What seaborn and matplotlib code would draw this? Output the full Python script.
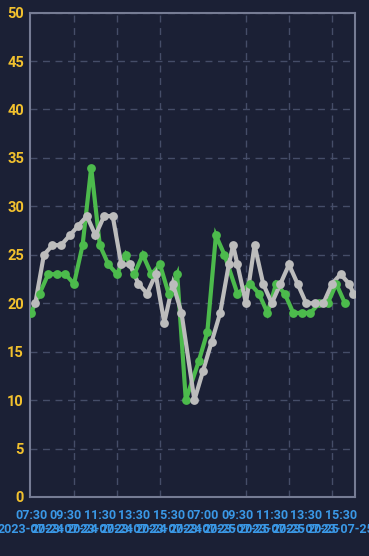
import matplotlib
matplotlib.use("Agg")
import matplotlib.pyplot as plt
import seaborn as sns
import pandas as pd

# ---- data (category index on the x axis, value on y) ----
green_idx = [0, 2, 4, 6, 8, 10, 12, 14, 16, 18, 20, 22, 24, 26, 28, 30, 32, 34,
             36, 39, 41, 43, 45, 48, 51, 53, 55, 57, 59, 61, 63, 65, 67, 69, 71, 73]
green_val = [19, 21, 23, 23, 23, 22, 26, 34, 26, 24, 23, 25, 23, 25, 23, 24, 21, 23,
             10, 14, 17, 27, 25, 21, 22, 21, 19, 22, 21, 19, 19, 19, 20, 20, 22, 20]

gray_idx = [1, 3, 5, 7, 9, 11, 13, 15, 17, 19, 21, 23, 25, 27, 29, 31, 33, 35,
            38, 40, 42, 44, 46, 47, 48, 50, 52, 54, 56, 58, 60, 62, 64, 66, 68, 70,
            72, 74, 75]
gray_val = [20, 25, 26, 26, 27, 28, 29, 27, 29, 29, 24, 24, 22, 21, 23, 18, 22, 19,
            10, 13, 16, 19, 24, 26, 24, 20, 26, 22, 20, 22, 24, 22, 20, 20, 20, 22,
            23, 22, 21]

tick_idx = [0, 8, 16, 24, 32, 40, 48, 56, 64, 72]
tick_time = ["07:30", "09:30", "11:30", "13:30", "15:30",
             "07:00", "09:30", "11:30", "13:30", "15:30"]
tick_date = ["2023-07-24"] * 5 + ["2023-07-25"] * 5
y_ticks = [0, 5, 10, 15, 20, 25, 30, 35, 40, 45, 50]

# ---- style ----
BG = "#1b2035"
GREEN = "#4cba4c"
GRAY = "#bcbcbc"
GRID = "#454d68"
FRAME = "#767c94"
YCOL = "#f2c12e"
XCOL = "#3a98e6"

sns.set_theme(style="dark", rc={"axes.facecolor": BG, "figure.facecolor": BG})
plt.rcParams["font.family"] = ["Roboto", "DejaVu Sans"]

fig = plt.figure(figsize=(3.69, 5.56), dpi=100)
W, H = 369, 556
ax = fig.add_axes([30 / W, (H - 497) / H, 325 / W, (497 - 12.6) / H])
ax.set_facecolor(BG)

dg = pd.DataFrame({"x": green_idx, "y": green_val})
dy = pd.DataFrame({"x": gray_idx, "y": gray_val})

line_kw = dict(linewidth=3.0, solid_joinstyle="miter", solid_capstyle="butt")
sns.lineplot(data=dg, x="x", y="y", color=GREEN, ax=ax, zorder=3, **line_kw)
sns.lineplot(data=dy, x="x", y="y", color=GRAY, ax=ax, zorder=3, **line_kw)
sns.scatterplot(data=dg, x="x", y="y", color=GREEN, s=40, linewidth=0, ax=ax, zorder=4)
sns.scatterplot(data=dy, x="x", y="y", color=GRAY, s=40, linewidth=0, ax=ax, zorder=4)

ax.set_xlim(-1 / 4.3, 324 / 4.3)
ax.set_ylim(0, 50)
ax.set_xlabel("")
ax.set_ylabel("")

# y axis
ax.set_yticks(y_ticks)
ax.set_yticklabels([str(v) for v in y_ticks])
ax.tick_params(axis="y", length=0, pad=4.3, labelsize=10.5, labelcolor=YCOL)
for t in ax.get_yticklabels():
    t.set_fontweight("bold")

# x axis
ax.set_xticks(tick_idx)
ax.set_xticklabels([f"{a}\n{b}" for a, b in zip(tick_time, tick_date)],
                   linespacing=1.1)
ax.set_xticks([10, 20, 30, 40, 50, 60, 70], minor=True)
ax.tick_params(axis="x", which="both", length=0, pad=8.5, labelsize=9, labelcolor=XCOL)
for t in ax.get_xticklabels():
    t.set_fontweight("bold")

ax.grid(False)
ax.grid(which="minor", axis="x", color=GRID, linestyle=(0, (5, 4)), linewidth=1)
ax.grid(which="major", axis="y", color=GRID, linestyle=(0, (5, 4)), linewidth=1)
ax.set_axisbelow(True)

for s in ax.spines.values():
    s.set_visible(True)
    s.set_color(FRAME)
    s.set_linewidth(1.5)

fig.savefig("out.png", dpi=100, facecolor=BG)
